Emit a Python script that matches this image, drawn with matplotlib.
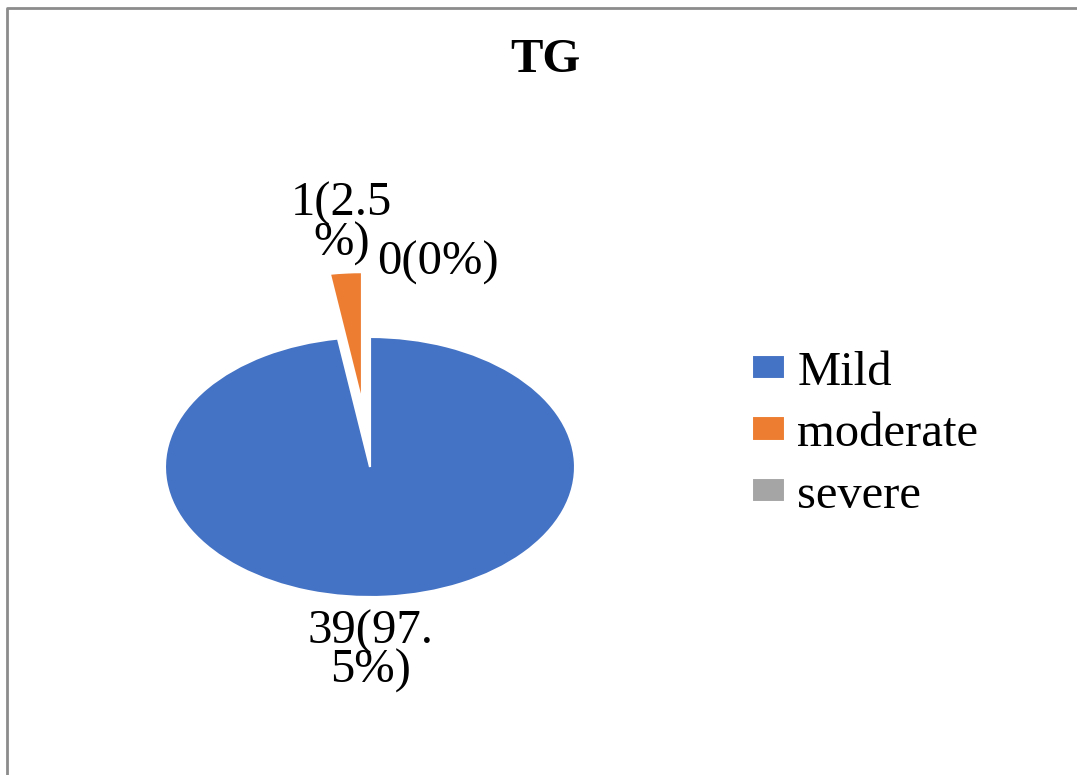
import numpy as np
import matplotlib as mpl
mpl.use('Agg')
from matplotlib import pyplot as plt
from matplotlib.lines import Line2D

# TG severity breakdown
categories = ["Mild", "moderate", "severe"]
counts = [39, 1, 0]
percents = [97.5, 2.5, 0]
wrap_at = [6, 5, None]   # where the data labels break onto a second line
colors = ["#4472C4", "#ED7D31", "#A5A5A5"]
explode = [0, 0.5, 0]

plt.rcParams['font.family'] = ['Liberation Serif', 'DejaVu Serif']
FS = 35


def make_label(n, p, cut):
    """Label text as 'n(p%)', optionally broken over two lines."""
    txt = "%d(%s%%)" % (n, ("%g" % p))
    if cut is not None and cut < len(txt):
        txt = txt[:cut] + "\n" + txt[cut:]
    return txt


W, H = 1077, 775
fig = plt.figure(figsize=(W / 100, H / 100), dpi=100)

# pie axes: unit circle stretched to 205 x 130 px around (370, 467)
cx, cy, rx, ry = 370, 467, 205, 130
a, b = 1.5, 2.0
ax = fig.add_axes([(cx - a * rx) / W, 1 - (cy + b * ry) / H,
                   2 * a * rx / W, 2 * b * ry / H])
wedges, _ = ax.pie(counts, colors=colors, explode=explode, startangle=90,
                   counterclock=False, radius=1,
                   wedgeprops=dict(edgecolor="white", linewidth=1.5))
ax.set_aspect('auto')
ax.set_xlim(-a, a)
ax.set_ylim(-b, b)
ax.axis('off')

# data labels
label_pos = [(0.0, -1.42), (-0.14, 1.87), (0.33, 1.57)]
for n, p, cut, (x, y) in zip(counts, percents, wrap_at, label_pos):
    ax.text(x, y, make_label(n, p, cut), ha="center", va="center",
            fontsize=FS, linespacing=0.85, color="black")

fig.text(545 / W, 1 - 60 / H, "TG", ha="center", va="center",
         fontsize=FS, fontweight="bold")

leg = fig.legend(wedges, categories, loc="center left",
                 bbox_to_anchor=(752 / W, 1 - 434 / H), frameon=False,
                 fontsize=FS, handlelength=0.68, handleheight=0.4,
                 handletextpad=0.25, labelspacing=0.36,
                 borderpad=0, borderaxespad=0)

# chart frame (only top and left edges fall inside the image)
fx, fy = 7 / W, 1 - 8 / H
fig.add_artist(Line2D([fx, fx, 1.0], [0.0, fy, fy], transform=fig.transFigure,
                      color="#8c8c8c", linewidth=2))

fig.savefig("out.png", dpi=100)
